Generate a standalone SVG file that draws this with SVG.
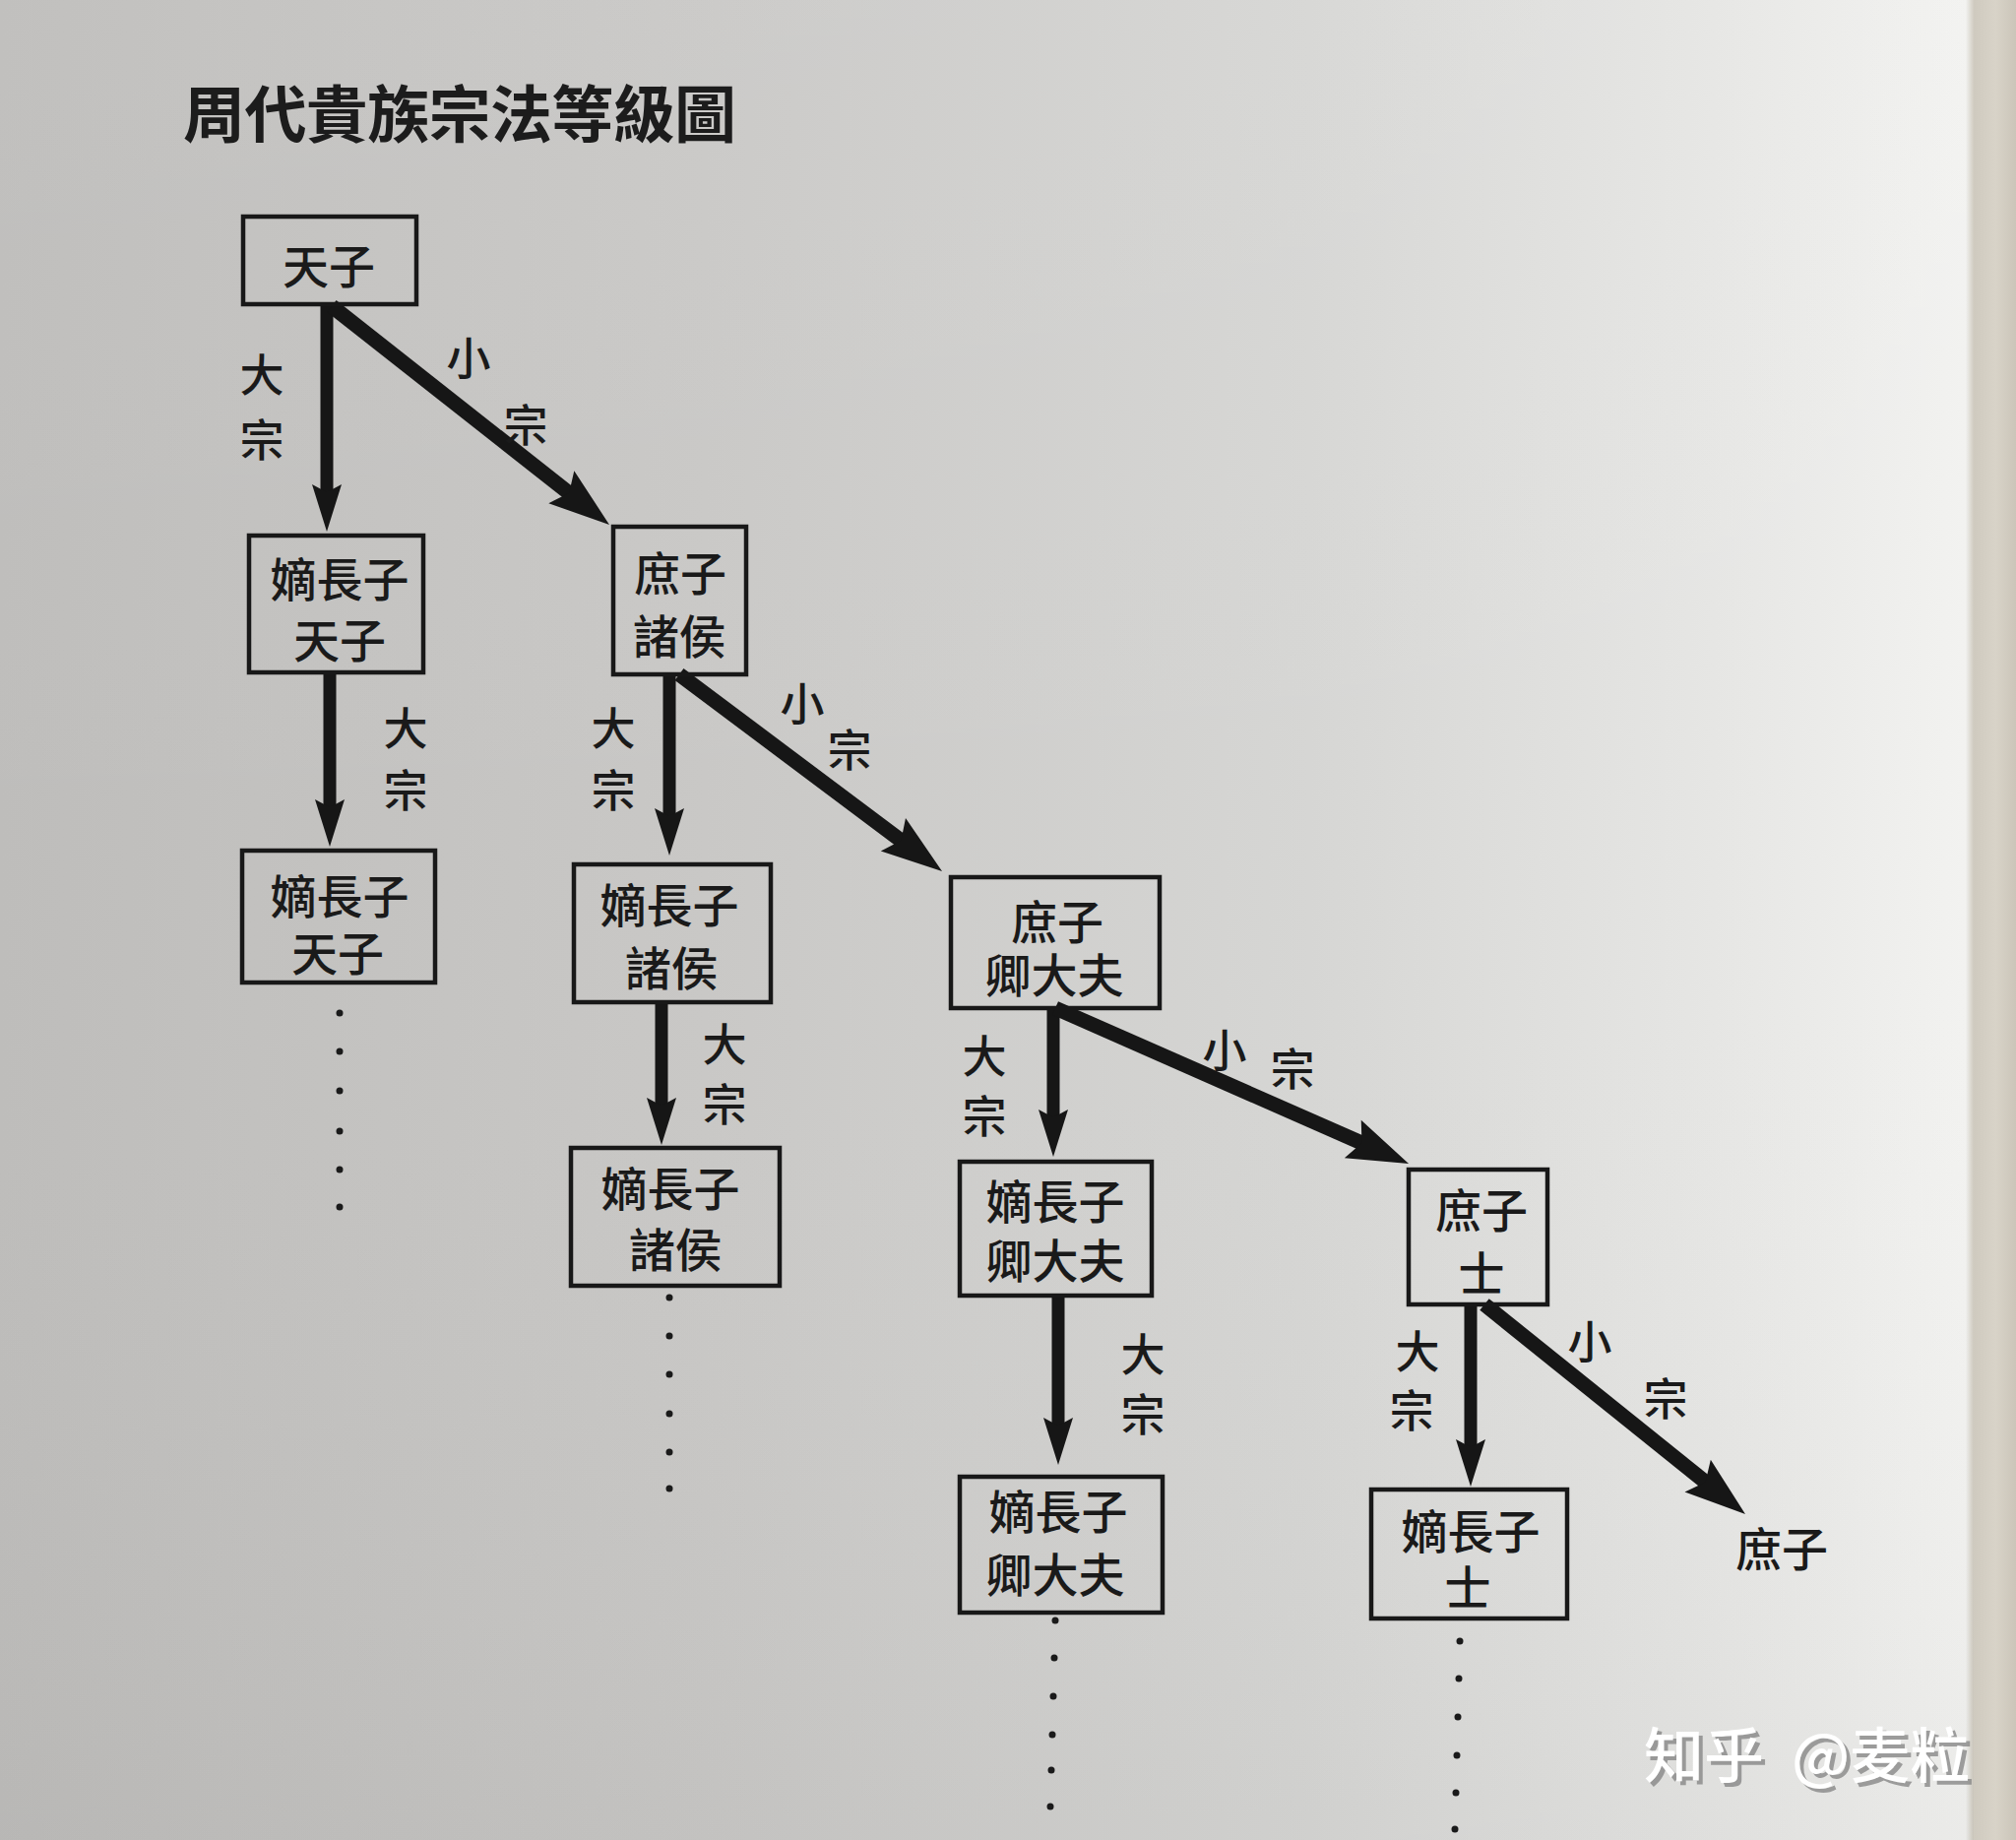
<svg xmlns="http://www.w3.org/2000/svg" width="2048" height="1869" viewBox="0 0 2048 1869">
<defs>
<linearGradient id="paper" x1="0" y1="0" x2="1" y2="0">
<stop offset="0" stop-color="#bebdbb"/>
<stop offset="0.35" stop-color="#c9c8c6"/>
<stop offset="0.65" stop-color="#d6d6d4"/>
<stop offset="0.85" stop-color="#e6e6e4"/>
<stop offset="0.975" stop-color="#f2f2f0"/>
<stop offset="0.979" stop-color="#cfcabf"/>
<stop offset="0.99" stop-color="#d8d3c8"/>
<stop offset="1" stop-color="#cbc5b9"/>
</linearGradient>
<linearGradient id="shade" x1="0" y1="0" x2="0" y2="1">
<stop offset="0" stop-color="#ffffff" stop-opacity="0.05"/>
<stop offset="0.5" stop-color="#ffffff" stop-opacity="0"/>
<stop offset="1" stop-color="#000000" stop-opacity="0.03"/>
</linearGradient>
<marker id="mv" markerUnits="userSpaceOnUse" viewBox="-50 -18 52 36" markerWidth="52" markerHeight="36" refX="-38" refY="0" orient="auto">
<path d="M0,0 L-48,-15 L-40,0 L-48,15 Z" fill="#161616"/>
</marker>
<marker id="md" markerUnits="userSpaceOnUse" viewBox="-66 -24 68 48" markerWidth="68" markerHeight="48" refX="-48" refY="0" orient="auto">
<path d="M0,0 L-62,-21 L-52,0 L-62,21 Z" fill="#161616"/>
</marker>
</defs>
<style>
.box{fill:none;stroke:#181818;stroke-width:4.5}
.t{font-family:"Noto Sans CJK TC","Noto Sans CJK SC",sans-serif;font-size:47px;fill:#1a1a1a;text-anchor:middle;dominant-baseline:central;font-weight:500}
.l{font-family:"Noto Sans CJK TC","Noto Sans CJK SC",sans-serif;font-size:45px;fill:#1a1a1a;text-anchor:middle;dominant-baseline:central;font-weight:500}
.v{stroke:#161616;stroke-width:13;fill:none}
.d{stroke:#161616;stroke-width:15;fill:none}
.dot{fill:#1a1a1a}
.wm{font-family:"Noto Sans CJK SC",sans-serif;font-size:61px;font-weight:500}
</style>
<rect x="0" y="0" width="2048" height="1869" fill="url(#paper)"/>
<rect x="0" y="0" width="2005" height="1869" fill="url(#shade)"/>

<text x="186" y="139" font-family="Noto Sans CJK TC, Noto Sans CJK SC, sans-serif" font-size="63" font-weight="700" fill="#1c1c1c" textLength="562">周代貴族宗法等級圖</text>

<g id="connectors">
<line class="v" x1="332" y1="309" x2="332" y2="502" marker-end="url(#mv)"/>
<line class="d" x1="337" y1="311" x2="581.3" y2="503.3" marker-end="url(#md)"/>
<line class="v" x1="335" y1="683" x2="335" y2="822" marker-end="url(#mv)"/>
<line class="v" x1="680" y1="685" x2="680" y2="831" marker-end="url(#mv)"/>
<line class="d" x1="690" y1="685" x2="918.6" y2="856.2" marker-end="url(#md)"/>
<line class="v" x1="672" y1="1018" x2="672" y2="1125" marker-end="url(#mv)"/>
<line class="v" x1="1070" y1="1024" x2="1070" y2="1137" marker-end="url(#mv)"/>
<line class="d" x1="1072" y1="1024" x2="1387.1" y2="1162.6" marker-end="url(#md)"/>
<line class="v" x1="1075" y1="1316" x2="1075" y2="1450" marker-end="url(#mv)"/>
<line class="v" x1="1494" y1="1325" x2="1494" y2="1472" marker-end="url(#mv)"/>
<line class="d" x1="1508" y1="1325" x2="1735.6" y2="1507.9" marker-end="url(#md)"/>
<g class="l">
<text><tspan x="266" y="378">大</tspan><tspan x="266" y="444">宗</tspan></text>
<text><tspan x="476" y="361">小</tspan><tspan x="534" y="429">宗</tspan></text>
<text><tspan x="412" y="737">大</tspan><tspan x="412" y="800">宗</tspan></text>
<text><tspan x="623" y="737">大</tspan><tspan x="623" y="800">宗</tspan></text>
<text><tspan x="815" y="712">小</tspan><tspan x="863" y="759">宗</tspan></text>
<text><tspan x="736" y="1058">大</tspan><tspan x="736" y="1119">宗</tspan></text>
<text><tspan x="1000" y="1070">大</tspan><tspan x="1000" y="1131">宗</tspan></text>
<text><tspan x="1244" y="1064">小</tspan><tspan x="1313" y="1083">宗</tspan></text>
<text><tspan x="1161" y="1373">大</tspan><tspan x="1161" y="1434">宗</tspan></text>
<text><tspan x="1440" y="1370">大</tspan><tspan x="1434" y="1430">宗</tspan></text>
<text><tspan x="1615" y="1360">小</tspan><tspan x="1692" y="1418">宗</tspan></text>
</g>
</g>

<g id="n1"><rect class="box" x="247" y="220" width="176" height="89"/><text class="t" x="334" y="267">天子</text></g>
<g id="n2"><rect class="box" x="253" y="544" width="177" height="139"/><text class="t"><tspan x="345" y="585">嫡長子</tspan><tspan x="345" y="647">天子</tspan></text></g>
<g id="n3"><rect class="box" x="623" y="535" width="135" height="150"/><text class="t"><tspan x="691" y="579">庶子</tspan><tspan x="690" y="643">諸侯</tspan></text></g>
<g id="n4"><rect class="box" x="246" y="864" width="196" height="134"/><text class="t"><tspan x="345" y="907">嫡長子</tspan><tspan x="343" y="965">天子</tspan></text></g>
<g id="n5"><rect class="box" x="583" y="878" width="200" height="140"/><text class="t"><tspan x="680" y="916">嫡長子</tspan><tspan x="682" y="980">諸侯</tspan></text></g>
<g id="n6"><rect class="box" x="966" y="891" width="212" height="133"/><text class="t"><tspan x="1074" y="933">庶子</tspan><tspan x="1071" y="987">卿大夫</tspan></text></g>
<g id="n7"><rect class="box" x="580" y="1166" width="212" height="140"/><text class="t"><tspan x="681" y="1204">嫡長子</tspan><tspan x="686" y="1266">諸侯</tspan></text></g>
<g id="n8"><rect class="box" x="975" y="1180" width="195" height="136"/><text class="t"><tspan x="1072" y="1217">嫡長子</tspan><tspan x="1072" y="1277">卿大夫</tspan></text></g>
<g id="n9"><rect class="box" x="1431" y="1188" width="141" height="137"/><text class="t"><tspan x="1505" y="1226">庶子</tspan><tspan x="1505" y="1290">士</tspan></text></g>
<g id="n10"><rect class="box" x="975" y="1500" width="206" height="138"/><text class="t"><tspan x="1075" y="1532">嫡長子</tspan><tspan x="1072" y="1596">卿大夫</tspan></text></g>
<g id="n11"><rect class="box" x="1393" y="1513" width="199" height="131"/><text class="t"><tspan x="1494" y="1552">嫡長子</tspan><tspan x="1491" y="1609">士</tspan></text></g>
<g id="n12"><text class="t" x="1810" y="1570" font-weight="400">庶子</text></g>

<g id="dots1"><circle class="dot" cx="345" cy="1029" r="3.5"/><circle class="dot" cx="345" cy="1068" r="3.5"/><circle class="dot" cx="345" cy="1108" r="3.5"/><circle class="dot" cx="345" cy="1149" r="3.5"/><circle class="dot" cx="345" cy="1188" r="3.5"/><circle class="dot" cx="345" cy="1226" r="3.5"/></g>
<g id="dots2"><circle class="dot" cx="680" cy="1318" r="3.5"/><circle class="dot" cx="680" cy="1357" r="3.5"/><circle class="dot" cx="680" cy="1396" r="3.5"/><circle class="dot" cx="680" cy="1436" r="3.5"/><circle class="dot" cx="680" cy="1475" r="3.5"/><circle class="dot" cx="680" cy="1512" r="3.5"/></g>
<g id="dots3"><circle class="dot" cx="1072" cy="1646" r="3.5"/><circle class="dot" cx="1071" cy="1684" r="3.5"/><circle class="dot" cx="1070" cy="1723" r="3.5"/><circle class="dot" cx="1069" cy="1762" r="3.5"/><circle class="dot" cx="1068" cy="1798" r="3.5"/><circle class="dot" cx="1067" cy="1835" r="3.5"/></g>
<g id="dots4"><circle class="dot" cx="1483" cy="1667" r="3.5"/><circle class="dot" cx="1482" cy="1705" r="3.5"/><circle class="dot" cx="1481" cy="1744" r="3.5"/><circle class="dot" cx="1480" cy="1783" r="3.5"/><circle class="dot" cx="1479" cy="1821" r="3.5"/><circle class="dot" cx="1478" cy="1858" r="3.5"/></g>

<g id="watermark">
<text class="wm" x="1674" y="1810" fill="#7a7a7a" fill-opacity="0.7">知乎</text>
<text class="wm" x="1824" y="1810" fill="#7a7a7a" fill-opacity="0.7">@麦粒</text>
<text class="wm" x="1670" y="1806" fill="#ffffff">知乎</text>
<text class="wm" x="1820" y="1806" fill="#ffffff">@麦粒</text>
</g>
</svg>
